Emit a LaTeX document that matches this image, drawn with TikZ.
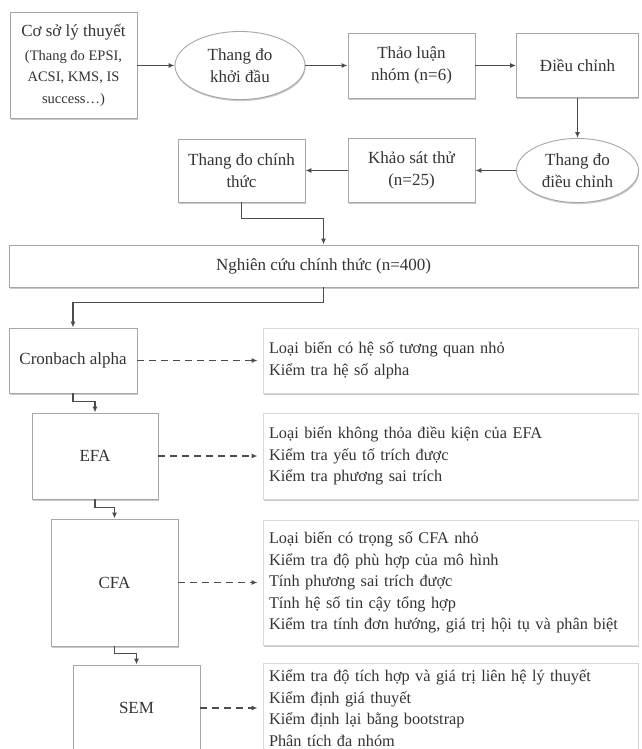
\documentclass[tikz,border=0pt]{standalone}
\usepackage{fontspec}
\setmainfont{Liberation Serif}
\usetikzlibrary{arrows.meta,shapes.geometric,shadows}
\begin{document}
\begin{tikzpicture}[x=1pt,y=-1pt,
  font=\fontsize{17}{21.5}\selectfont, text=black!80,
  shad/.style={drop shadow={shadow xshift=0.6pt,shadow yshift=-1.6pt,opacity=0.35,fill=black!60}},
  box/.style={shad, draw=black!35, line width=0.9pt, fill=white, inner sep=0pt, align=center},
  oval/.style={box, ellipse},
  tbox/.style={shad, draw=black!15, line width=0.9pt, fill=white, inner xsep=6pt, inner ysep=0pt,
    align=left, text width=363pt, minimum width=375pt, font=\fontsize{16.3}{21.5}\selectfont},
  arr/.style={draw=black!70, line width=1.2pt, -{Latex[length=6pt,width=5pt]}},
  darr/.style={arr, dash pattern=on 7pt off 5pt, shorten >=5pt}
]
\useasboundingbox (0,0) rectangle (641,749);
\clip (0,0) rectangle (641,749);
\fill[white] (0,0) rectangle (641,749);

% top row
\node[box, minimum width=127pt, minimum height=106pt] (cs) at (73.5,65.5)
  {\fontsize{17}{22}\selectfont Cơ sở lý thuyết\\[2pt]
   \fontsize{14.5}{23}\selectfont (Thang đo EPSI,\\
   \fontsize{14.5}{23}\selectfont ACSI, KMS, IS\\
   \fontsize{14.5}{23}\selectfont success…)};
\node[oval, minimum width=130pt, minimum height=68pt] (e1) at (240,65.5) {Thang đo\\ khởi đầu};
\node[box, minimum width=127pt, minimum height=65pt] (tl) at (411.5,65.5) {Thảo luận\\ nhóm (n=6)};
\node[box, minimum width=122pt, minimum height=64pt] (dc) at (577.5,65.5) {Điều chỉnh};

% second row
\node[oval, minimum width=122pt, minimum height=64pt] (e2) at (577.5,170.5) {Thang đo\\ điều chỉnh};
\node[box, minimum width=127pt, minimum height=64pt] (ks) at (411.5,170.5) {Khảo sát thử\\ (n=25)};
\node[box, minimum width=127pt, minimum height=63pt] (tdct) at (241.5,170.5) {Thang đo chính\\ thức};

% main study
\node[box, minimum width=629pt, minimum height=42pt] (ng) at (323.5,266) {Nghiên cứu chính thức (n=400)};

% analysis steps
\node[box, minimum width=128pt, minimum height=65pt] (cron) at (73,360.5) {Cronbach alpha};
\node[box, minimum width=126pt, minimum height=86pt] (efa) at (95,456) {EFA};
\node[box, minimum width=127pt, minimum height=127pt] (cfa) at (114.5,582.5) {CFA};
\node[box, minimum width=127pt, minimum height=86pt] (sem) at (136.5,708) {SEM};

\node[tbox, minimum height=65pt] (r1) at (450.5,360.5)
  {Loại biến có hệ số tương quan nhỏ\\ Kiểm tra hệ số alpha};
\node[tbox, minimum height=86pt] (r2) at (450.5,456)
  {Loại biến không thỏa điều kiện của EFA\\ Kiểm tra yếu tố trích được\\ Kiểm tra phương sai trích};
\node[tbox, minimum height=125pt] (r3) at (450.5,582.5)
  {Loại biến có trọng số CFA nhỏ\\ Kiểm tra độ phù hợp của mô hình\\ Tính phương sai trích được\\ Tính hệ số tin cậy tổng hợp\\ Kiểm tra tính đơn hướng, giá trị hội tụ và phân biệt};
\node[tbox, minimum height=90pt] (r4) at (450.5,708)
  {Kiểm tra độ tích hợp và giá trị liên hệ lý thuyết\\ Kiểm định giá thuyết\\ Kiểm định lại bằng bootstrap\\ Phân tích đa nhóm};

% connectors
\draw[arr] (cs.east) -- (e1.west);
\draw[arr] (e1.east) -- (tl.west);
\draw[arr] (tl.east) -- (dc.west);
\draw[arr] (dc.south) -- (e2.north);
\draw[arr] (e2.west) -- (ks.east);
\draw[arr] (ks.west) -- (tdct.east);
\draw[arr] (tdct.south) -- ++(0,16) -| (ng.north);
\draw[arr] (ng.south) -- ++(0,15) -| (cron.north);
\draw[arr] (cron.south) -- ++(0,8) -| (efa.north);
\draw[arr] (efa.south) -- ++(0,8) -| (cfa.north);
\draw[arr] (cfa.south) -- ++(0,7) -| (sem.north);

\draw[darr] (cron.east) -- (r1.west);
\draw[darr] (efa.east) -- (r2.west);
\draw[darr] (cfa.east) -- (r3.west);
\draw[darr] (sem.east) -- (r4.west);
\end{tikzpicture}
\end{document}
